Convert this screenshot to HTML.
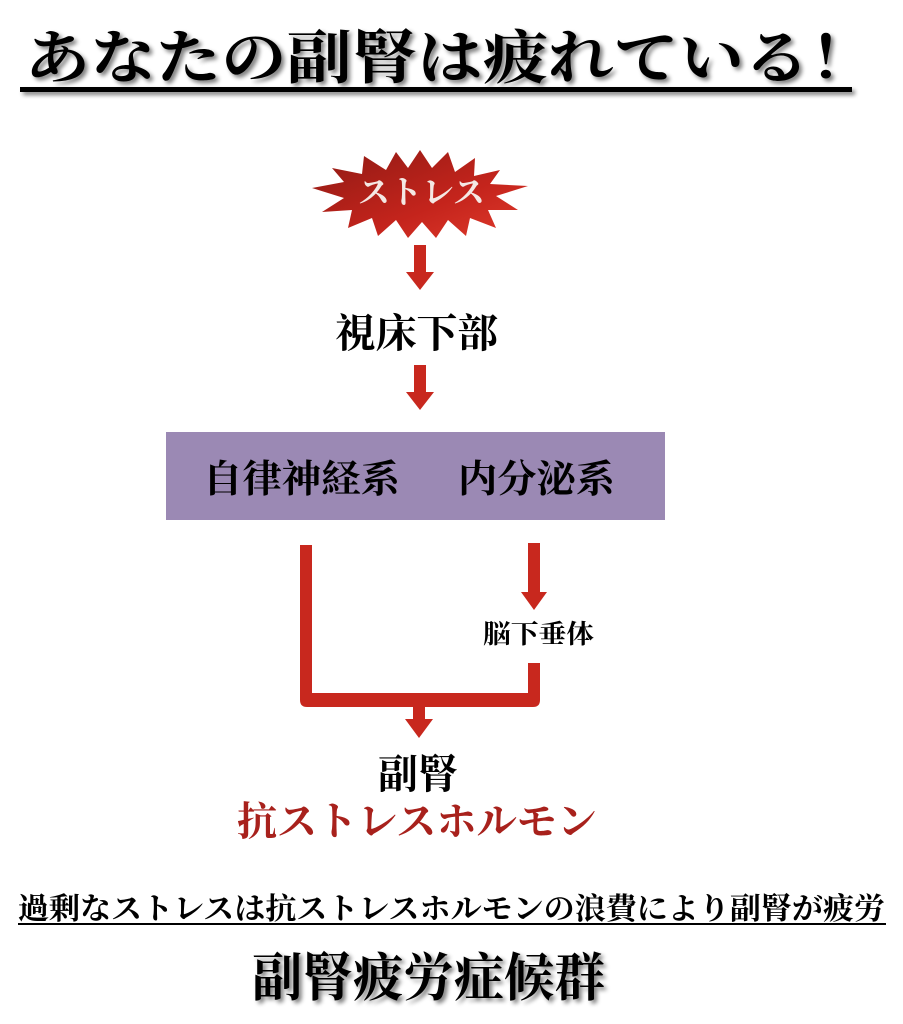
<!DOCTYPE html>
<html><head><meta charset="utf-8"><style>
html,body{margin:0;padding:0;background:#fff;width:903px;height:1024px;overflow:hidden}
text{font-family:"Liberation Serif","Noto Serif CJK SC",serif;font-weight:bold}
</style></head><body>
<svg width="903" height="1024" viewBox="0 0 903 1024" xmlns="http://www.w3.org/2000/svg">
<defs>
<linearGradient id="g" x1="0" y1="0" x2="1" y2="1"><stop offset="0" stop-color="#8e1a14"/><stop offset="0.6" stop-color="#c4241c"/><stop offset="1" stop-color="#e03a2c"/></linearGradient>
<filter id="sh"><feGaussianBlur in="SourceAlpha" stdDeviation="2"/><feOffset dx="3" dy="3"/><feComponentTransfer><feFuncA type="linear" slope="0.5"/></feComponentTransfer><feMerge><feMergeNode/><feMergeNode in="SourceGraphic"/></feMerge></filter>
</defs>
<g filter="url(#sh)">
<text x="25" y="78" font-size="58" textLength="850" lengthAdjust="spacingAndGlyphs" fill="#000">あなたの副腎は疲れている！</text>
<rect x="20" y="87" width="832" height="5" fill="#000"/>
</g>
<polygon fill="url(#g)" points="420,150 432,168 448,152 455,172 475,158 474,176 500,170 490,184 528,186 496,196 518,210 488,210 496,228 470,218 466,236 448,220 436,238 422,222 408,238 396,220 378,236 372,218 348,228 352,210 322,212 344,198 312,188 344,182 332,168 362,174 364,156 386,170 396,152 408,168"/>
<text x="358" y="203" font-size="32" textLength="127" lengthAdjust="spacingAndGlyphs" fill="#f4e8e4" font-weight="normal">ストレス</text>
<g fill="#c8281e">
<rect x="414" y="245" width="12" height="28"/><polygon points="406,272 434,272 420,290"/>
<rect x="414" y="365" width="12" height="28"/><polygon points="406,392 434,392 420,410"/>
<rect x="528" y="543" width="12" height="50"/><polygon points="521,592 547,592 534,610"/>
<path d="M300,545 H312 V693 H528 V663 H540 V700 Q540,707 533,707 H307 Q300,707 300,700 Z"/>
<rect x="413" y="706" width="12" height="14"/><polygon points="405,719 433,719 419,738"/>
</g>
<text x="335" y="347" font-size="40" textLength="163" lengthAdjust="spacingAndGlyphs">視床下部</text>
<rect x="166" y="432" width="499" height="88" fill="#9b89b4"/>
<text x="203" y="492" font-size="38" textLength="197" lengthAdjust="spacingAndGlyphs">自律神経系</text>
<text x="458" y="492" font-size="38" textLength="157" lengthAdjust="spacingAndGlyphs">内分泌系</text>
<text x="483" y="643" font-size="26" textLength="111" lengthAdjust="spacingAndGlyphs">脳下垂体</text>
<text x="378" y="788" font-size="40" textLength="80" lengthAdjust="spacingAndGlyphs">副腎</text>
<text x="237" y="835" font-size="40" textLength="360" lengthAdjust="spacingAndGlyphs" fill="#a8211c">抗ストレスホルモン</text>
<text x="18" y="919" font-size="30" textLength="867" lengthAdjust="spacingAndGlyphs">過剰なストレスは抗ストレスホルモンの浪費により副腎が疲労</text>
<rect x="18" y="923" width="868" height="2" fill="#000"/>
<g filter="url(#sh)">
<text x="252" y="996" font-size="52" textLength="353" lengthAdjust="spacingAndGlyphs">副腎疲労症候群</text>
</g>
</svg>
</body></html>
